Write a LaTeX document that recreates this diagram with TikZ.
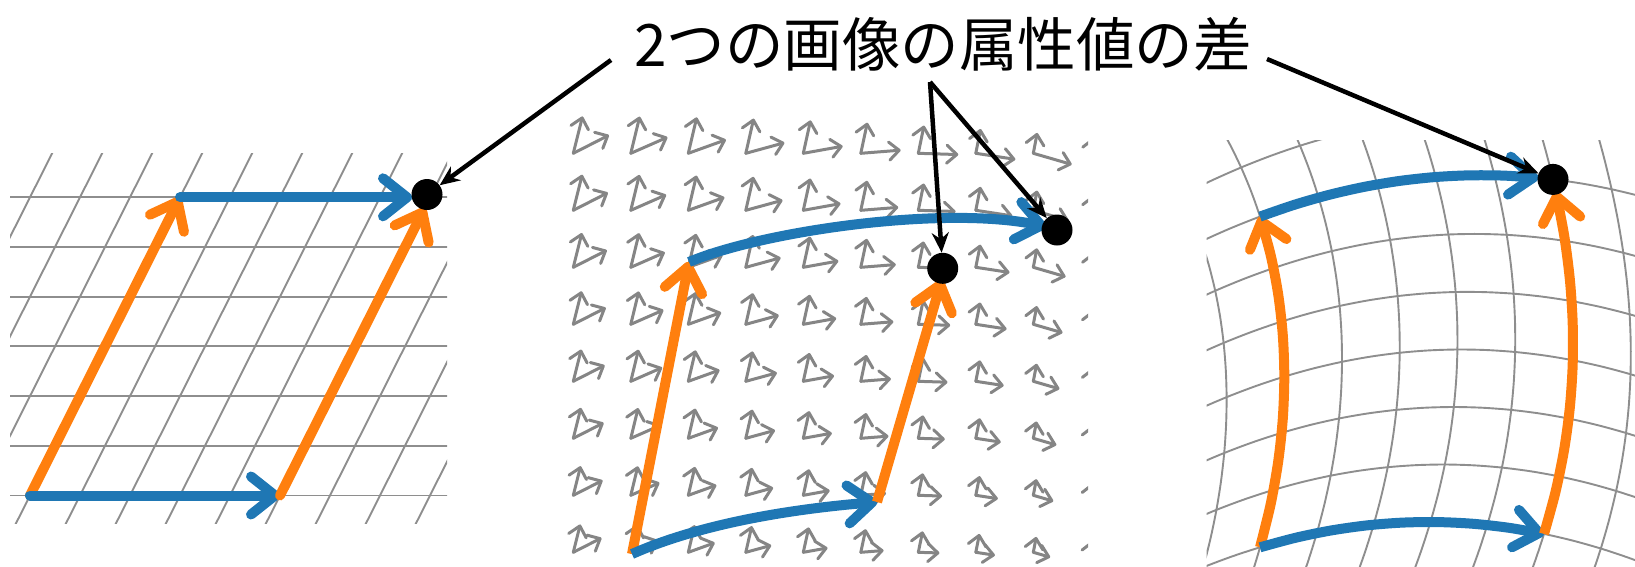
\documentclass[tikz,border=0pt]{standalone}
\usepackage{fontspec}
\newfontfamily\jpfont{Noto Sans CJK JP}
\usetikzlibrary{arrows.meta}
\definecolor{mblue}{HTML}{1F77B4}
\definecolor{morange}{HTML}{FF7F0E}
\definecolor{gridgray}{HTML}{8E8E8E}
\definecolor{glyphgray}{HTML}{858585}
\begin{document}
\begin{tikzpicture}[x=1pt,y=-1pt,
  gridline/.style={gridgray, line width=1.9pt},
  bigtip/.style={-{Straight Barb[length=24pt,width=38pt,round]}},
  bluearr/.style={mblue, line width=10pt, bigtip},
  orangearr/.style={morange, line width=10pt, bigtip},
  glyph/.style={glyphgray, line width=3pt, line cap=round, -{Straight Barb[length=10pt,width=18pt,round]}},
  dotnode/.style={circle, fill=black, inner sep=0pt, minimum size=31pt},
  annot/.style={black, line width=4.5pt, -{Stealth[length=20pt,width=17pt]}},
  declare function={
    fx(\p,\q)=1260+2.7*\q*(6-\q)+(56.8+0.3*\q)*\p;
    fy(\p,\q)=522-57.5*\q+(0.2-0.022*\q*\q*\q)*(\p-3)+2.88*(\p-3)*(\p-3);
  }]
\useasboundingbox (0,0) rectangle (1635,566);

% ---------- left panel: sheared grid ----------
\begin{scope}
  \clip (10,153) rectangle (447,523);
  \foreach \kk in {-1,...,7}
    \draw[gridline] (0,{495.5-49.7*\kk}) -- (460,{495.5-49.7*\kk});
  \foreach \mm in {-8,...,9}
    \draw[gridline] ({30+50*\mm-25},{495.5+49.7}) -- ({30+50*\mm+25*8},{495.5-49.7*8});
\end{scope}
\coordinate (L00) at (30,495.5);
\coordinate (L50) at (280,495.5);
\coordinate (L06) at (180,197.3);
\coordinate (L56a) at (412,197.3);
\coordinate (L56b) at (424.7,208);
\draw[orangearr, line cap=round] (L00) -- (L06);
\draw[bluearr, line cap=round] (L00) -- (L50);
\draw[orangearr, line cap=round] (L50) -- (L56b);
\draw[bluearr, line cap=round] (L06) -- (L56a);
\node[dotnode] (ldot) at (427,194.5) {};

% ---------- middle panel: frame field ----------
\begin{scope}
  \clip (555,105) rectangle (1088,566);
  \foreach \ii in {0,...,9}{
    \foreach \jj in {0,...,7}{
      \pgfmathsetmacro\ox{573.3+57.5*\ii}
      \pgfmathsetmacro\oy{153.3+57*\jj}
      \pgfmathsetmacro\tu{27-3*\ii-0.3*\ii*\ii}
      \pgfmathsetmacro\lu{40-\jj*(1.2+0.25*\ii)}
      \pgfmathsetmacro\tv{76+0.4*\ii}
      \pgfmathsetmacro\lv{(38-0.27*\ii*\ii)*(1-0.035*\jj)}
      \draw[glyph] (\ox,\oy) -- ++({\lu*cos(\tu)},{-\lu*sin(\tu)});
      \draw[glyph] (\ox,\oy) -- ++({\lv*cos(\tv)},{-\lv*sin(\tv)});
    }
  }
\end{scope}
\coordinate (M00) at (632,554);
\coordinate (M50) at (877,502);
\coordinate (M06) at (689,262);
\coordinate (M56a) at (1046,226.5);
\coordinate (M56b) at (941.7,280);
\draw[orangearr] (M00) -- (M06);
\draw[bluearr] (M00) .. controls (690.7,528) and (772.3,510.7) .. (M50);
\draw[orangearr] (M50) -- (M56b);
\draw[bluearr] (M06) .. controls (760,232) and (940,205) .. (M56a);
\node[dotnode] (mdotA) at (942.7,268.3) {};
\node[dotnode] (mdotB) at (1057,230) {};

% ---------- right panel: curved grid ----------
\begin{scope}
  \clip (1206.7,140) rectangle (1640,566);
  \foreach \aa in {-2,...,8}
    \draw[gridline] plot[smooth, variable=\t, domain=-1.5:8.5, samples=21] ({fx(\aa,\t)},{fy(\aa,\t)});
  \foreach \bb in {-1,...,8}
    \draw[gridline] plot[smooth, variable=\t, domain=-2.5:8.5, samples=23] ({fx(\t,\bb)},{fy(\t,\bb)});
\end{scope}
\draw[orangearr] plot[smooth, variable=\t, domain=0:6, samples=9] ({fx(0,\t)},{fy(0,\t)});
\draw[bluearr] plot[smooth, variable=\t, domain=0:5, samples=9] ({fx(\t,0)},{fy(\t,0)});
\draw[orangearr] plot[smooth, variable=\t, domain=0:5.8, samples=9] ({fx(5,\t)},{fy(5,\t)});
\draw[bluearr] plot[smooth, variable=\t, domain=0:4.75, samples=9] ({fx(\t,6)},{fy(\t,6)});
\node[dotnode] (rdot) at ({fx(5,6)},{fy(5,6)}) {};

% ---------- title and annotation arrows ----------
\node[font=\jpfont\fontsize{58.5}{62}\selectfont, inner sep=0pt] (title) at (943,44) {2つの画像の属性値の差};
\coordinate (aL) at (611,60);
\coordinate (aM) at (930,82);
\coordinate (aR) at (1267,59);
\draw[annot] (aL) -- (ldot);
\draw[annot] (aM) -- (mdotA);
\draw[annot] (aM) -- (mdotB);
\draw[annot] (aR) -- (rdot);
\end{tikzpicture}
\end{document}
